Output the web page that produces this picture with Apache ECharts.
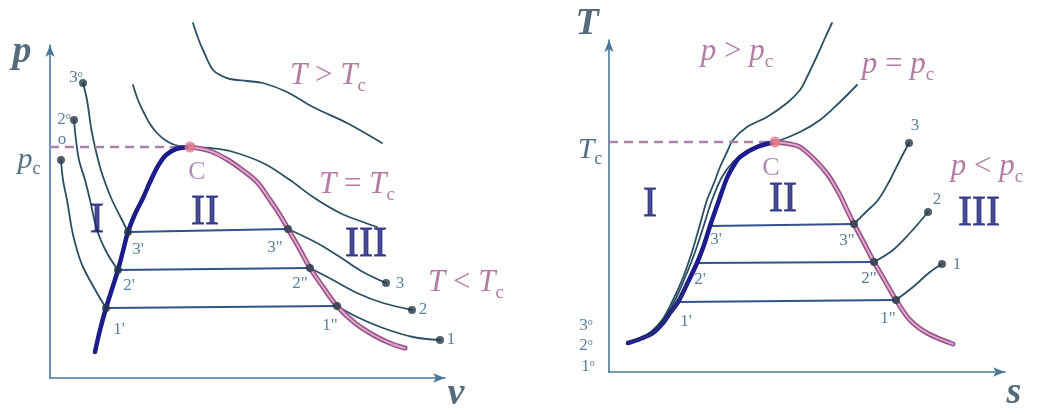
<!DOCTYPE html>
<html><head><meta charset="utf-8">
<script src="https://cdn.jsdelivr.net/npm/echarts/dist/echarts.min.js"></script>
<style>html,body{margin:0;padding:0;background:#fff}#c{width:1038px;height:414px}</style>
</head><body><div id="c"></div>
<script>
// ---------- p–v diagram (left) : [v, p] ----------
const pvLiquid = [[4.5,2.6],[5.0,4.8],[5.6,7.0],[6.2,8.9],[6.8,10.8],[7.3,12.7],[7.8,14.6],[8.5,16.4],[9.3,18.0],[10.0,19.6],[10.8,21.2],[11.6,22.3],[12.6,22.9],[14.0,23.1]];
const pvVapor = [[14.0,23.1],[16.0,22.7],[17.8,21.8],[19.5,20.6],[20.7,19.6],[22.0,17.8],[23.0,16.3],[23.8,14.9],[24.9,13.0],[26.0,11.0],[27.3,9.1],[28.7,7.2],[30.5,5.5],[32.5,4.2],[34.2,3.4],[35.5,3.0]];
const pvIso3Liquid = [[3.3,29.5],[3.7,27.8],[4.2,24.5],[5.0,21.1],[5.6,19.3],[6.2,17.8],[7.0,16.2],[7.8,14.6]];
const pvIso3Gas = [[23.8,14.9],[26.7,13.5],[29.0,12.1],[31.3,10.6],[33.6,9.5]];
const pvIso2Liquid = [[2.4,25.8],[2.6,23.8],[2.9,21.8],[3.5,19.8],[4.0,17.8],[4.7,14.8],[5.7,12.5],[6.8,10.8]];
const pvIso2Gas = [[26.0,11.0],[28.3,9.8],[30.7,8.5],[33.3,7.5],[36.2,6.8]];
const pvIso1Liquid = [[1.1,21.8],[1.3,19.8],[1.7,17.8],[2.2,14.8],[2.7,12.8],[3.3,11.1],[4.7,8.5],[5.6,7.0]];
const pvIso1Gas = [[28.7,7.2],[30.7,6.1],[33.3,5.0],[36.3,4.1],[39.0,3.8]];
const pvTies = [[[7.8,14.6],[23.8,14.9]],[[6.8,10.8],[26.0,11.0]],[[5.6,7.0],[28.7,7.2]]];
const pvCriticalIso = [[8.3,29.3],[8.8,27.8],[9.4,26.5],[10.0,25.4],[10.7,24.5],[11.5,23.8],[12.5,23.3],[14.0,23.1],[16.0,23.0],[18.0,22.7],[21.3,21.5],[24.0,19.8],[26.3,18.1],[29.0,16.5],[31.3,15.6],[32.7,15.1]];
const pvSuperIso = [[14.3,35.5],[14.8,34.0],[15.3,32.8],[16.3,30.8],[17.2,30.2],[18.0,29.9],[19.7,29.7],[21.3,29.5],[23.7,28.6],[26.3,27.1],[29.7,25.5],[33.2,23.5]];
const pvCritDash = [[0,23.1],[14.0,23.1]];
const pvPoints = [[3.3,29.5],[2.4,25.8],[1.1,21.8],[7.8,14.6],[6.8,10.8],[5.6,7.0],[23.8,14.9],[26.0,11.0],[28.7,7.2],[33.6,9.5],[36.2,6.8],[39.0,3.8]];
const pvC = [[14.0,23.1]];
const pvRange = {v:[0,39.5], p:[0,33.3]};

const pvAxisTexts = [[-2.8,32.6,'p'],[40.6,-1.6,'v']];
const pvTickTexts = [[-2.1,21.8,'p_c']];
const pvPointTexts = [[2.6,30.0,'3^o'],[1.4,25.8,'2^o'],[1.2,23.8,'o'],[8.8,12.8,"3'"],[7.9,9.2,"2'"],[6.9,4.8,"1'"],[22.5,13.0,'3"'],[25.0,9.4,'2"'],[28.0,5.2,'1"'],[35.0,9.4,'3'],[37.3,6.8,'2'],[40.1,3.8,'1']];
const pvRegionTexts = [[4.7,15.7,'I'],[15.5,16.5,'II'],[31.6,13.3,'III']];
const pvStateTexts = [[27.8,30.2,'T > T_c'],[30.7,19.3,'T = T_c'],[41.6,9.5,'T < T_c']];
const pvCTexts = [[14.7,20.6,'C']];

// ---------- T–s diagram (right) : [s, T] ----------
const tsLiquid = [[1.9,2.9],[3.1,3.3],[4.4,3.9],[5.4,4.9],[6.1,5.9],[6.9,7.0],[7.9,9.0],[8.8,10.9],[9.5,12.7],[10.1,14.6],[10.9,16.9],[11.8,19.4],[12.5,20.7],[13.1,21.5],[14.8,22.5],[16.6,23.0]];
const tsVapor = [[16.6,23.0],[18.1,22.8],[19.1,22.5],[20.6,21.2],[21.9,19.7],[23.1,17.7],[23.8,16.2],[24.5,14.8],[25.5,12.9],[26.5,11.0],[27.6,9.1],[28.7,7.2],[30.1,5.2],[31.8,3.9],[34.4,2.8]];
const tsTies = [[[10.1,14.6],[24.5,14.8]],[[8.8,10.9],[26.5,11.0]],[[6.9,7.0],[28.7,7.2]]];
const tsIso3 = [[24.5,14.8],[25.7,16.0],[26.9,17.2],[28.1,19.2],[29.1,21.2],[30.0,22.9]];
const tsIso2 = [[26.5,11.0],[28.4,12.2],[30.1,13.9],[31.9,16.0]];
const tsIso1 = [[28.7,7.2],[30.4,8.5],[32.1,10.0],[33.3,10.8]];
const tsCriticalIso = [[1.9,2.9],[3.9,3.8],[5.4,5.2],[6.5,7.0],[7.5,9.2],[8.5,11.7],[9.4,14.4],[10.3,17.2],[11.3,19.5],[12.4,21.0],[13.9,22.2],[15.3,22.8],[16.6,23.0],[19.1,24.0],[21.1,25.2],[23.1,27.0],[24.8,28.7]];
const tsSuperIso = [[1.9,2.9],[3.9,3.8],[5.3,5.2],[6.3,7.0],[7.3,9.2],[8.2,11.7],[9.0,14.4],[9.8,17.2],[10.5,18.9],[11.1,20.5],[11.8,22.0],[12.4,23.2],[13.8,24.5],[15.8,25.5],[17.8,26.9],[19.1,28.2],[19.8,29.5],[20.8,31.6],[21.6,33.4],[22.3,34.9]];
const tsCritDash = [[0,23.0],[16.6,23.0]];
const tsPoints = [[24.5,14.8],[26.5,11.0],[28.7,7.2],[30.0,22.9],[31.9,16.0],[33.3,10.8]];
const tsC = [[16.6,23.0]];
const tsRange = {s:[0,39.6], T:[0,33.2]};

const tsAxisTexts = [[-2.2,34.8,'T'],[40.5,-2.1,'s']];
const tsTickTexts = [[-1.9,22.2,'T_c']];
const tsPointTexts = [[10.7,13.2,"3'"],[9.1,9.2,"2'"],[7.7,5.0,"1'"],[23.8,13.1,'3"'],[26.0,9.3,'2"'],[27.9,5.3,'1"'],[30.6,24.6,'3'],[32.8,17.2,'2'],[34.8,10.7,'1'],[-2.3,4.6,'3^o'],[-2.3,2.6,'2^o'],[-2.1,0.5,'1^o']];
const tsRegionTexts = [[4.1,16.7,'I'],[17.4,17.2,'II'],[37.0,15.8,'III']];
const tsStateTexts = [[12.8,32.0,'p > p_c'],[28.9,30.7,'p = p_c'],[37.8,20.5,'p < p_c']];
const tsCTexts = [[16.2,20.4,'C']];

// ---------- styles ----------
const SERIF = 'Liberation Serif';
const C_THIN = '#2b4f63', C_TIE = '#33528c', C_BLUE = '#1c1c8c', C_AXIS = '#4a7898';
const ST = {
  axis:   {fontFamily:SERIF, fontSize:38, fontStyle:'italic', fontWeight:'bold', color:'#284659'},
  tick:   {fontFamily:SERIF, fontSize:30, fontStyle:'italic', fontWeight:'normal', color:'#2c4d64'},
  num:    {fontFamily:SERIF, fontSize:17, fontStyle:'normal', fontWeight:'normal', color:'#325f80'},
  region: {fontFamily:SERIF, fontSize:42, fontStyle:'normal', fontWeight:'normal', color:'#1a2178', textBorderColor:'#1a2178', textBorderWidth:0.9},
  state:  {fontFamily:SERIF, fontSize:31, fontStyle:'italic', fontWeight:'normal', color:'#a05c8c'},
  cl:     {fontFamily:SERIF, fontSize:26, fontStyle:'normal', fontWeight:'normal', color:'#9c6ea4'}
};
function rich(b){
  const fs=b.fontSize;
  return {
    b:{...b, lineHeight:fs, verticalAlign:'top'},
    o:{...b, fontStyle:'normal', lineHeight:fs, verticalAlign:'top'},
    s:{...b, fontStyle:'normal', fontWeight:'normal', fontSize:Math.round(fs*0.6), lineHeight:Math.round(fs*0.6), padding:[Math.round(fs*0.5),0,0,0], verticalAlign:'top'},
    u:{...b, fontStyle:'normal', fontWeight:'normal', fontSize:Math.round(fs*0.6), lineHeight:Math.round(fs*0.6), verticalAlign:'top'}
  };
}
function fmt(t){
  return t.split(' ').map(tok=>{
    if(tok.includes('_')){const [a,c]=tok.split('_');return '{b|'+a+'}{s|'+c+'}';}
    if(tok.includes('^')){const [a,c]=tok.split('^');return '{b|'+a+'}{u|'+c+'}';}
    if(/^[<>=]$/.test(tok)) return '{o|'+tok+'}';
    return '{b|'+tok+'}';
  }).join('{o| }');
}
function line(g,data,color,width,extra){
  return Object.assign({type:'line',xAxisIndex:g,yAxisIndex:g,data,smooth:0.35,symbol:'none',clip:false,silent:true,
    lineStyle:{color,width,cap:'round',join:'round'},z:2},extra||{});
}
function dots(g,data,color,size,z){
  return {type:'scatter',xAxisIndex:g,yAxisIndex:g,data,symbolSize:size,clip:false,silent:true,itemStyle:{color},z:z||6};
}
function texts(g,arr,st){
  return {type:'scatter',xAxisIndex:g,yAxisIndex:g,symbolSize:0,clip:false,silent:true,z:8,
    data:arr.map(a=>({value:[a[0],a[1]],name:a[2]})),
    label:{show:true,position:'inside',formatter:p=>fmt(p.name),rich:rich(st),...st}};
}
function ties(g,arr){return arr.map(d=>line(g,d,C_TIE,2,{smooth:false,z:3}));}
function sat(g,liq,vap){
  return [
    line(g,liq,C_BLUE,4.5,{z:4}),
    line(g,vap,'#94508a',5,{z:4}),
    line(g,vap,'#e2a6c6',2,{z:5})
  ];
}
function axisCommon(){
  return {axisLine:{show:true,onZero:false,symbol:['none','arrow'],symbolSize:[7,12],lineStyle:{color:C_AXIS,width:1.6}},
    axisTick:{show:false},axisLabel:{show:false},splitLine:{show:false}};
}

const series = [
  // p-v
  line(0,pvSuperIso,C_THIN,1.8),
  line(0,pvCriticalIso,C_THIN,1.8),
  line(0,pvIso3Liquid,C_THIN,1.8), line(0,pvIso3Gas,C_THIN,1.8),
  line(0,pvIso2Liquid,C_THIN,1.8), line(0,pvIso2Gas,C_THIN,1.8),
  line(0,pvIso1Liquid,C_THIN,1.8), line(0,pvIso1Gas,C_THIN,1.8),
  ...ties(0,pvTies),
  line(0,pvCritDash,'#a884ac',2.5,{smooth:false,z:3,lineStyle:{color:'#a884ac',width:2.5,type:[9,6]}}),
  ...sat(0,pvLiquid,pvVapor),
  dots(0,pvPoints,'#243845',8),
  dots(0,pvC,'#e07a8a',11,7),
  texts(0,pvAxisTexts,ST.axis), texts(0,pvTickTexts,ST.tick), texts(0,pvPointTexts,ST.num),
  texts(0,pvRegionTexts,ST.region), texts(0,pvStateTexts,ST.state), texts(0,pvCTexts,ST.cl),
  // T-s
  line(1,tsSuperIso,C_THIN,1.8),
  line(1,tsCriticalIso,C_THIN,1.8),
  line(1,tsIso3,C_THIN,1.8), line(1,tsIso2,C_THIN,1.8), line(1,tsIso1,C_THIN,1.8),
  ...ties(1,tsTies),
  line(1,tsCritDash,'#a884ac',2.5,{smooth:false,z:3,lineStyle:{color:'#a884ac',width:2.5,type:[9,6]}}),
  ...sat(1,tsLiquid,tsVapor),
  line(1,tsLiquid.slice(0,7),'#3a4a5a',1.6,{z:5,lineStyle:{color:'rgba(60,70,80,0.55)',width:1.6}}),
  dots(1,tsPoints,'#243845',8),
  dots(1,tsC,'#e07a8a',11,7),
  texts(1,tsAxisTexts,ST.axis), texts(1,tsTickTexts,ST.tick), texts(1,tsPointTexts,ST.num),
  texts(1,tsRegionTexts,ST.region), texts(1,tsStateTexts,ST.state), texts(1,tsCTexts,ST.cl)
];

const chart = echarts.init(document.getElementById('c'),null,{renderer:'canvas'});
chart.setOption({
  animation:false,
  backgroundColor:'#ffffff',
  grid:[
    {left:50,top:45,right:593,bottom:36,containLabel:false},
    {left:609,top:40,right:33,bottom:42,containLabel:false}
  ],
  xAxis:[
    {type:'value',gridIndex:0,min:pvRange.v[0],max:pvRange.v[1],...axisCommon()},
    {type:'value',gridIndex:1,min:tsRange.s[0],max:tsRange.s[1],...axisCommon()}
  ],
  yAxis:[
    {type:'value',gridIndex:0,min:pvRange.p[0],max:pvRange.p[1],...axisCommon()},
    {type:'value',gridIndex:1,min:tsRange.T[0],max:tsRange.T[1],...axisCommon()}
  ],
  series
});
</script></body></html>
